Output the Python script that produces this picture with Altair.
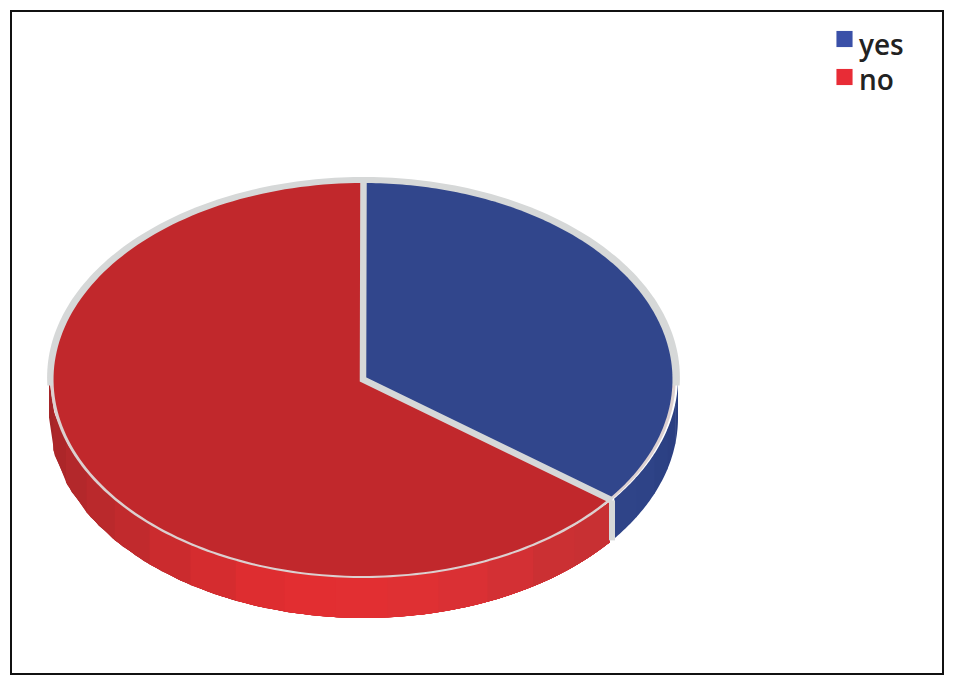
import numpy as np
import pandas as pd
import altair as alt

# --- values
answers = ["yes", "no"]
shares = [35.5, 64.5]
top_colors = ["#31468c", "#c1282c"]
legend_colors = ["#3a50a8", "#e82c36"]
rim_color = "#d6d8d8"
front_rim_color = "#dcd0d0"
blue_side = ["#2a3e80", "#2b3f82", "#2c4184", "#2e4387", "#2f4488"]
red_side = ["#a52528", "#ac2629", "#b3282b", "#ba292c", "#c12a2d", "#cb2b2e", "#d52c2f",
            "#de2d30", "#e22e31", "#e22f32", "#df3033", "#da3034", "#d33034", "#cb3033", "#c83033"]

# pie geometry in pie units: rim radius = 1 on both axes, the scales give the tilt
RX, RY, DEPTH_PX = 314.5, 200.5, 40
DEPTH = DEPTH_PX / RY
FACE_X, FACE_Y = 0.984, 0.98
FACE_DX, FACE_DY = -0.5 / RX, -2 / RY
cut = 2 * np.pi * shares[0] / sum(shares)


def rim(a, x0=0.0, y0=0.0, sx=1.0, sy=1.0):
    return x0 + sx * np.sin(a), y0 + sy * np.cos(a)


def rows(group, color, xs, ys):
    return pd.DataFrame({"x": xs, "y": ys, "o": np.arange(len(xs)), "g": group, "c": color})


def side_strips(colors, a0, a1, name):
    out = []
    edges = np.linspace(a0, a1, len(colors) + 1)
    for i, col in enumerate(colors):
        a = np.linspace(edges[i], min(edges[i + 1] + 0.006, a1), 14)
        x, y = rim(a)
        out.append(rows(f"{name}{i}", col,
                        np.r_[x, x[::-1]], np.r_[y, (y - DEPTH)[::-1]]))
    return out


def wedge(name, color, a0, a1):
    a = np.linspace(a0, a1, 160)
    x, y = rim(a, FACE_DX, FACE_DY, FACE_X, FACE_Y)
    return rows(name, color, np.r_[FACE_DX, x], np.r_[FACE_DY, y])


# the rim is a broad band round the back half and a hairline round the front half
back = np.linspace(-np.pi / 2 - 0.04, np.pi / 2 + 0.04, 160)
front = np.linspace(np.pi / 2, 3 * np.pi / 2, 160)
bx, by = rim(back, 0, 0, 1.006, 1.0)
fx, fy = rim(front, FACE_DX, FACE_DY, 0.994, 0.99)

sides = pd.concat(
    side_strips(blue_side, np.pi / 2, cut - 0.012, "b")
    + side_strips(red_side, 3 * np.pi / 2, cut + 0.012, "r"),
    ignore_index=True,
)
disc = pd.concat([
    rows("front", front_rim_color, fx, fy),
    rows("back", rim_color, bx, by),
], ignore_index=True)
faces = pd.concat([
    wedge("yes", top_colors[0], 0, cut),
    wedge("no", top_colors[1], cut, 2 * np.pi),
], ignore_index=True)

ex, ey = rim(cut)
cuts = pd.DataFrame({
    "x": [0, FACE_DX, ex],
    "y": [1, FACE_DY, ey],
    "o": [0, 1, 2],
})
drop = pd.DataFrame({"x": [ex], "y": [ey], "y2": [ey - DEPTH]})

x_scale = alt.Scale(domain=[-(363.5 - 11) / RX, (943 - 363.5) / RX], nice=False, zero=False)
y_scale = alt.Scale(domain=[-(674 - 377.5) / RY, (377.5 - 11) / RY], nice=False, zero=False)
X = alt.X("x:Q", scale=x_scale, axis=None)
Y = alt.Y("y:Q", scale=y_scale, axis=None)


def polygons(df):
    return alt.Chart(df).mark_line(filled=True, interpolate="linear").encode(
        x=X, y=Y, order="o:Q", detail="g:N", color=alt.Color("c:N", scale=None, legend=None)
    )


side_layer = polygons(sides)
disc_layer = polygons(disc)
face_layer = polygons(faces)
cut_layer = alt.Chart(cuts).mark_line(color=rim_color, strokeWidth=6.5, strokeJoin="miter").encode(
    x=X, y=Y, order="o:Q"
)
drop_layer = alt.Chart(drop).mark_rule(color=rim_color, strokeWidth=6).encode(x=X, y=Y, y2="y2:Q")

legend_layers = []
for ans, col, sy, ty in zip(answers, legend_colors, [28, 66], [44, 79]):
    d = pd.DataFrame({"answer": [ans]})
    legend_layers.append(
        alt.Chart(d).mark_square(size=260, color=col, opacity=1).encode(
            x=alt.value(833.5), y=alt.value(sy)
        )
    )
    legend_layers.append(
        alt.Chart(d).mark_text(align="left", baseline="alphabetic", font="Open Sans", fontSize=28,
                               fontWeight=600, color="#222222").encode(
            x=alt.value(848), y=alt.value(ty), text="answer:N"
        )
    )

chart = alt.layer(
    side_layer, disc_layer, drop_layer, face_layer, cut_layer, *legend_layers
).properties(
    width=932, height=663,
    autosize=alt.AutoSizeParams(type="none"),
    padding={"left": 3, "top": 3, "right": 2, "bottom": 2},
    background="white",
).configure_view(stroke="#111111", strokeWidth=2)

chart.save("out.html", embed_options={"renderer": "svg", "actions": False})
